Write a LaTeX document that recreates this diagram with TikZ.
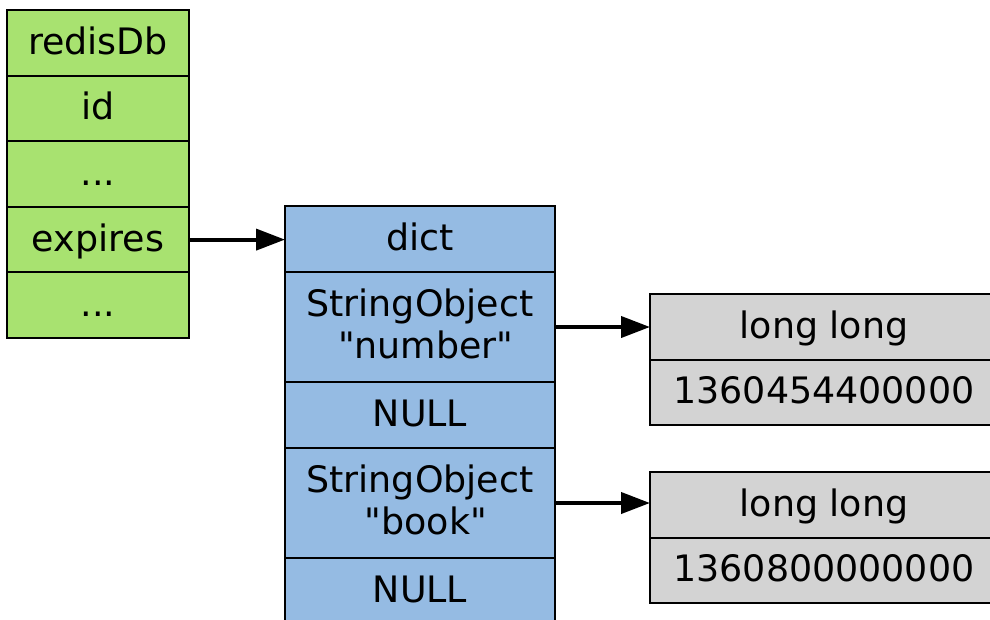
\documentclass[tikz,border=0pt]{standalone}
\usepackage{fontspec}
\setmainfont{DejaVu Sans}[Ligatures=TeXOff]
\usetikzlibrary{arrows.meta}
\definecolor{cgreen}{HTML}{A8E270}
\definecolor{cblue}{HTML}{95BBE3}
\definecolor{cgray}{HTML}{D3D3D3}
\tikzset{
  cell/.style={draw=black, line width=2pt, inner sep=0pt, outer sep=0pt, align=center, text depth=7pt,
    font=\fontsize{36.4}{42}\selectfont},
  one/.style={text height=30pt},
  gcell/.style={cell, one, fill=cgreen, minimum width=182pt, minimum height=65.6pt},
  bcell/.style={cell, fill=cblue, minimum width=270pt},
  kcell/.style={cell, one, fill=cgray, minimum width=348pt},
  arr/.style={line width=4pt, -{Triangle[length=29pt,width=21pt]}}
}
\begin{document}
\begin{tikzpicture}[x=1pt,y=-1pt]
\useasboundingbox (0,0) rectangle (990,619);
\clip (0,0) rectangle (990,619);
\fill[white] (0,0) rectangle (990,619);
% redisDb
\node[gcell] (r1) at (98,42.8) {redisDb};
\node[gcell] (r2) at (98,108.4) {id};
\node[gcell] (r3) at (98,174.0) {...};
\node[gcell] (expires) at (98,239.6) {expires};
\node[gcell] (r5) at (98,305.2) {...};
% dict
\node[bcell, one, minimum height=66pt] (dict) at (420,239) {dict};
\node[bcell, minimum height=110pt] (k1) at (420,327) {StringObject\\\hspace*{0.318em}"number"};
\node[bcell, one, minimum height=66pt] (v1) at (420,415) {NULL};
\node[bcell, minimum height=110pt] (k2) at (420,503) {StringObject\\\hspace*{0.318em}"book"};
\node[bcell, one, minimum height=66pt] (v2) at (420,591) {NULL};
% long long 1
\node[kcell, minimum height=65.5pt] (l1) at (824,326.75) {long long};
\node[kcell, minimum height=65.5pt] (n1) at (824,392.25) {1360454400000};
% long long 2
\node[kcell, minimum height=65.5pt] (l2) at (824,504.75) {long long};
\node[kcell, minimum height=65.5pt] (n2) at (824,570.25) {1360800000000};
% arrows
\draw[arr] (expires.east) -- (expires.east -| dict.west);
\draw[arr] (k1.east) -- (k1.east -| l1.west);
\draw[arr] (k2.east) -- (k2.east -| l2.west);
\end{tikzpicture}
\end{document}
